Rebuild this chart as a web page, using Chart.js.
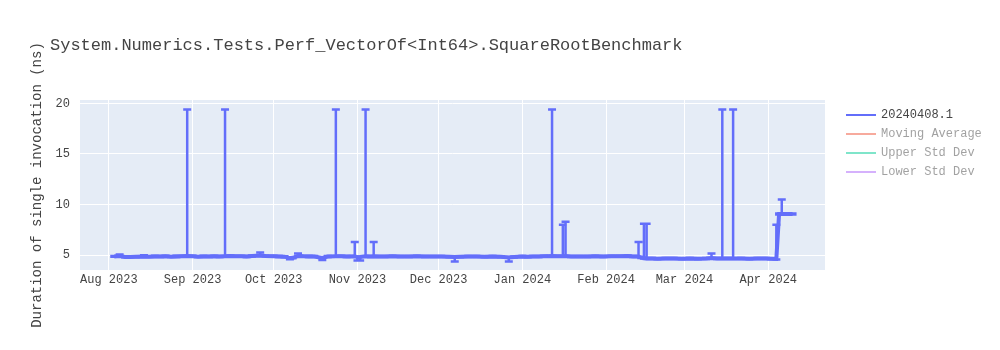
<!DOCTYPE html>
<html>
<head>
<meta charset="utf-8">
<script src="https://cdn.jsdelivr.net/npm/chart.js@4.4.1/dist/chart.umd.min.js"></script>
<style>
  html, body { margin: 0; padding: 0; background: #fff; }
  #wrap { width: 1000px; height: 350px; }
</style>
</head>
<body>
<div id="wrap"><canvas id="myChart"></canvas></div>
<script>
/* chart data */
var chartTitle = 'System.Numerics.Tests.Perf_VectorOf<Int64>.SquareRootBenchmark';
var yTitle = 'Duration of single invocation (ns)';
var seriesNames = ['20240408.1', 'Moving Average', 'Upper Std Dev', 'Lower Std Dev'];
var seriesColors = ['#636efa', '#ef553b', '#00cc96', '#ab63fa'];
var seriesHidden = [false, true, true, true];

var runDates = [
  '2023-08-03','2023-08-05','2023-08-07','2023-08-09','2023-08-11','2023-08-14','2023-08-16','2023-08-18','2023-08-20','2023-08-22','2023-08-24','2023-08-26','2023-08-28','2023-08-30',
  '2023-09-01','2023-09-03','2023-09-05','2023-09-07','2023-09-09','2023-09-11','2023-09-13','2023-09-15','2023-09-17','2023-09-19','2023-09-21','2023-09-23','2023-09-26','2023-09-28',
  '2023-10-01','2023-10-03','2023-10-05','2023-10-07','2023-10-08','2023-10-10','2023-10-12','2023-10-14','2023-10-16','2023-10-19','2023-10-21','2023-10-24','2023-10-26','2023-10-28','2023-10-31',
  '2023-11-01','2023-11-02','2023-11-04','2023-11-06','2023-11-07','2023-11-09','2023-11-11','2023-11-14','2023-11-17','2023-11-20','2023-11-23','2023-11-26','2023-11-29',
  '2023-12-02','2023-12-05','2023-12-07','2023-12-09','2023-12-12','2023-12-15','2023-12-18','2023-12-21','2023-12-24','2023-12-27','2023-12-29',
  '2024-01-01','2024-01-03','2024-01-05','2024-01-07','2024-01-09','2024-01-12','2024-01-14','2024-01-16','2024-01-17','2024-01-19','2024-01-22','2024-01-25','2024-01-28','2024-01-31',
  '2024-02-03','2024-02-06','2024-02-09','2024-02-11','2024-02-13','2024-02-14','2024-02-15','2024-02-16','2024-02-18','2024-02-20','2024-02-23','2024-02-26','2024-02-29',
  '2024-03-03','2024-03-06','2024-03-09','2024-03-11','2024-03-13','2024-03-15','2024-03-17','2024-03-19','2024-03-22','2024-03-25','2024-03-28','2024-03-31',
  '2024-04-02','2024-04-04','2024-04-05','2024-04-06','2024-04-10'
];
var runValues = [
  4.85,4.90,4.80,4.80,4.82,4.86,4.83,4.86,4.85,4.87,4.84,4.86,4.88,4.90,
  4.88,4.84,4.86,4.85,4.87,4.86,4.88,4.90,4.87,4.88,4.86,4.90,4.95,4.90,
  4.87,4.86,4.84,4.70,4.72,4.90,4.87,4.86,4.85,4.72,4.85,4.88,4.87,4.86,4.88,
  4.78,4.80,4.88,4.86,4.88,4.85,4.86,4.87,4.86,4.85,4.87,4.86,4.85,
  4.86,4.83,4.80,4.84,4.86,4.85,4.84,4.85,4.83,4.76,4.80,
  4.85,4.83,4.85,4.86,4.87,4.90,4.88,4.88,4.90,4.86,4.85,4.86,4.87,4.86,
  4.88,4.87,4.90,4.86,4.85,4.75,4.70,4.66,4.65,4.64,4.66,4.65,4.64,
  4.65,4.64,4.65,4.70,4.65,4.66,4.65,4.66,4.65,4.64,4.66,4.65,
  4.64,4.62,9.05,9.05,9.05
];
var errUp = [
  0.05,0.15,0.03,0.03,0.05,0.12,0.05,0.06,0.05,0.07,0.05,0.06,0.05,14.5,
  0.05,0.04,0.06,0.05,0.06,0.05,14.5,0.06,0.05,0.06,0.05,0.06,0.30,0.06,
  0.05,0.05,0.05,0.05,0.05,0.25,0.05,0.06,0.05,0.05,0.05,14.5,0.06,0.05,1.40,
  0.05,0.05,14.5,0.05,1.40,0.05,0.05,0.05,0.05,0.05,0.05,0.05,0.05,
  0.05,0.05,0.05,0.05,0.05,0.05,0.05,0.05,0.05,0.05,0.05,
  0.05,0.05,0.05,0.05,0.05,14.5,0.05,3.12,3.40,0.05,0.05,0.05,0.05,0.05,
  0.05,0.05,0.05,0.05,1.45,0.05,3.40,3.44,0.05,0.05,0.05,0.05,0.05,
  0.05,0.05,0.05,0.45,0.05,14.74,0.05,14.74,0.05,0.05,0.05,0.05,
  0.05,3.38,0.05,1.45,0.05
];
var errDown = [
  0.03,0.05,0.03,0.03,0.03,0.05,0.03,0.05,0.04,0.05,0.04,0.05,0.05,0.05,
  0.05,0.04,0.05,0.05,0.05,0.05,0.05,0.05,0.05,0.05,0.05,0.05,0.05,0.05,
  0.05,0.05,0.05,0.12,0.05,0.05,0.05,0.05,0.05,0.22,0.05,0.05,0.05,0.05,0.05,
  0.33,0.33,0.05,0.05,0.05,0.05,0.05,0.05,0.05,0.05,0.05,0.05,0.05,
  0.05,0.05,0.45,0.05,0.05,0.05,0.05,0.05,0.05,0.40,0.05,
  0.05,0.05,0.05,0.05,0.05,0.05,0.05,0.05,0.05,0.05,0.05,0.05,0.05,0.05,
  0.05,0.05,0.05,0.05,0.05,0.05,0.05,0.05,0.05,0.05,0.05,0.05,0.05,
  0.05,0.05,0.05,0.05,0.05,0.05,0.05,0.05,0.05,0.05,0.05,0.05,
  0.05,0.05,0.05,0.05,0.05
];

var monthTicks = ['2023-08-01','2023-09-01','2023-10-01','2023-11-01','2023-12-01','2024-01-01','2024-02-01','2024-03-01','2024-04-01'];
var monthLabels = ['Aug 2023','Sep 2023','Oct 2023','Nov 2023','Dec 2023','Jan 2024','Feb 2024','Mar 2024','Apr 2024'];
var yTicks = [5, 10, 15, 20];
var xRange = ['2023-07-21T08:00:00Z', '2024-04-22T00:00:00Z'];
var yRange = [3.52, 20.33];

var FONT = "'Courier New', 'Liberation Mono', monospace";

/* plot background, title, legend and error bars */
var plotlyLook = {
  id: 'plotlyLook',
  beforeDraw: function (chart) {
    var c = chart.ctx, a = chart.chartArea;
    c.save();
    c.fillStyle = '#fff';
    c.fillRect(0, 0, chart.width, chart.height);
    c.fillStyle = '#e5ecf6';
    c.fillRect(a.left, a.top, a.right - a.left, a.bottom - a.top);
    c.restore();
  },
  afterDatasetsDraw: function (chart) {
    var c = chart.ctx, a = chart.chartArea;
    var xs = chart.scales.x, ys = chart.scales.y;
    c.save();
    c.beginPath();
    c.rect(a.left, a.top, a.right - a.left, a.bottom - a.top);
    c.clip();
    c.strokeStyle = seriesColors[0];
    c.lineWidth = 2.5;
    c.beginPath();
    for (var i = 0; i < runDates.length; i++) {
      var px = xs.getPixelForValue(Date.parse(runDates[i]));
      var hi = ys.getPixelForValue(runValues[i] + errUp[i]);
      var lo = ys.getPixelForValue(runValues[i] - errDown[i]);
      c.moveTo(px, hi); c.lineTo(px, lo);
      c.moveTo(px - 4, hi); c.lineTo(px + 4, hi);
      c.moveTo(px - 4, lo); c.lineTo(px + 4, lo);
    }
    c.stroke();
    c.restore();
  },
  afterDraw: function (chart) {
    var c = chart.ctx;
    c.save();
    c.fillStyle = '#444';
    c.font = '17px ' + FONT;
    c.textBaseline = 'middle';
    c.textAlign = 'left';
    c.fillText(chartTitle, 50, 45);
    // legend
    c.font = '12px ' + FONT;
    for (var i = 0; i < seriesNames.length; i++) {
      var y = 115 + i * 19;
      c.globalAlpha = seriesHidden[i] ? 0.5 : 1;
      c.strokeStyle = seriesColors[i];
      c.lineWidth = 2;
      c.beginPath();
      c.moveTo(846, y); c.lineTo(876, y);
      c.stroke();
      c.fillStyle = '#444';
      c.fillText(seriesNames[i], 881, y);
    }
    c.restore();
  }
};

var points = runDates.map(function (d, i) {
  return { x: Date.parse(d), y: runValues[i] };
});

var ctx = document.getElementById('myChart').getContext('2d');
var chart = new Chart(ctx, {
  type: 'line',
  data: {
    datasets: [
      { label: seriesNames[0], data: points, borderColor: seriesColors[0], borderWidth: 4, pointRadius: 0, tension: 0 },
      { label: seriesNames[1], data: [], borderColor: seriesColors[1], hidden: true },
      { label: seriesNames[2], data: [], borderColor: seriesColors[2], hidden: true },
      { label: seriesNames[3], data: [], borderColor: seriesColors[3], hidden: true }
    ]
  },
  options: {
    responsive: true,
    maintainAspectRatio: false,
    animation: false,
    layout: { padding: { left: 0, top: 100, right: 175, bottom: 0 } },
    plugins: {
      legend: { display: false },
      title: { display: false },
      tooltip: { enabled: false }
    },
    scales: {
      x: {
        type: 'linear',
        min: Date.parse(xRange[0]),
        max: Date.parse(xRange[1]),
        afterBuildTicks: function (scale) {
          scale.ticks = monthTicks.map(function (d) { return { value: Date.parse(d) }; });
        },
        afterFit: function (scale) { scale.height = 80; },
        ticks: {
          autoSkip: false, maxRotation: 0, padding: 3, color: '#444',
          font: { family: FONT, size: 12 },
          callback: function (v, i) { return monthLabels[i]; }
        },
        grid: { color: '#fff', lineWidth: 1, drawTicks: false },
        border: { display: false }
      },
      y: {
        min: yRange[0],
        max: yRange[1],
        afterBuildTicks: function (scale) {
          scale.ticks = yTicks.map(function (v) { return { value: v }; });
        },
        afterFit: function (scale) { scale.width = 80; },
        ticks: {
          padding: 10, color: '#444',
          font: { family: FONT, size: 12 },
          callback: function (v) { return String(v); }
        },
        grid: { color: '#fff', lineWidth: 1, drawTicks: false },
        border: { display: false },
        title: {
          display: true, text: yTitle, color: '#444',
          font: { family: FONT, size: 14 },
          padding: { top: 29, bottom: 0 }
        }
      }
    }
  },
  plugins: [plotlyLook]
});
</script>
</body>
</html>
